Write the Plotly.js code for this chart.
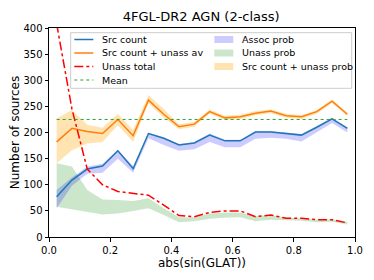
<!DOCTYPE html>
<html><head><meta charset="utf-8">
<script src="https://cdn.plot.ly/plotly-3.0.1.min.js"></script>
<style>html,body{margin:0;padding:0;background:#fff}#c{width:374px;height:280px}</style>
</head><body><div id="c"></div>
<script>
const xs = [0.025,0.075,0.125,0.175,0.225,0.275,0.325,0.375,0.425,0.475,0.525,0.575,0.625,0.675,0.725,0.775,0.825,0.875,0.925,0.975];
const srcCount = [77,109,130,136,165,131,198,189,176,180,195,184,184,201,201,198,195,210,226,208];
const srcUnassAv = [182,208,202,198,225,194,262,235,211,216,240,228,230,237,241,232,230,240,260,235];
const unassTotal = [408,245,130,100,87,83,80,61,41,39,47,50,50,39,42,36,36,33,33,27];
const meanVal = 225;
const assocHi = [90,114,135,140,167,135,200,191,178,182,198,186,186,203,203,200,197,212,228,210];
const assocLo = [55,98,121,123,150,123,189,176,165,168,182,172,172,188,190,188,183,200,218,200];
const unassHi = [141,135,90,72,71,69,74,55,38,38,45,47,47,40,42,37,36,33,34,29];
const unassLo = [58,53,48,43,45,50,55,42,28,30,35,37,38,30,33,32,31,28,29,24];
const totHi = [227,243,215,209,236,205,272,245,216,220,244,232,234,241,244,236,233,243,263,238];
const totLo = [141,166,179,182,214,182,256,228,206,211,236,224,226,233,237,228,226,236,256,231];

const lineNames = ['Src count','Src count + unass av','Unass total','Mean'];
const bandNames = ['Assoc prob','Unass prob','Src count + unass prob'];

const C_BLUE='#1f77b4', C_ORANGE='#ff7f0e', C_RED='red', C_MEAN='#2ca02c';
const F_ASSOC='rgba(0,0,255,0.2)', F_UNASS='rgba(0,128,0,0.2)', F_TOT='rgba(255,165,0,0.3)';

const rev = a => a.slice().reverse();
const band = (hi, lo) => ({x: xs.concat(rev(xs)), y: hi.concat(rev(lo))});

const traces = [
  Object.assign({type:'scatter', mode:'lines', name:bandNames[2], fill:'toself', fillcolor:F_TOT, line:{width:0}}, band(totHi, totLo)),
  Object.assign({type:'scatter', mode:'lines', name:bandNames[1], fill:'toself', fillcolor:F_UNASS, line:{width:0}}, band(unassHi, unassLo)),
  Object.assign({type:'scatter', mode:'lines', name:bandNames[0], fill:'toself', fillcolor:F_ASSOC, line:{width:0}}, band(assocHi, assocLo)),
  {type:'scatter', mode:'lines', name:lineNames[0], x:xs, y:srcCount, line:{color:C_BLUE, width:1.5}},
  {type:'scatter', mode:'lines', name:lineNames[1], x:xs, y:srcUnassAv, line:{color:C_ORANGE, width:1.5}},
  {type:'scatter', mode:'lines', name:lineNames[2], x:xs, y:unassTotal, line:{color:C_RED, width:1.5, dash:'dashdot'}},
  {type:'scatter', mode:'lines', name:lineNames[3], x:[xs[0], xs[xs.length-1]], y:[meanVal, meanVal], line:{color:C_MEAN, width:1, dash:'dot'}}
];

// legend drawn in paper coordinates (pixel helpers relative to plot area)
const L=49, T=28, W=306, H=209;
const PX = p => (p-L)/W, PY = p => (T+H-p)/H;
const rowY = [39.5, 53, 66.5, 80];
const shapes = [{type:'rect', xref:'paper', yref:'paper', layer:'above',
  x0:PX(70.7), x1:PX(351.7), y0:PY(88.3), y1:PY(32.7), fillcolor:'rgba(255,255,255,0.8)', line:{color:'#cccccc', width:1}}];
const annotations = [];
const lineStyles = [{color:C_BLUE,width:1.5,dash:'solid'},{color:C_ORANGE,width:1.5,dash:'solid'},{color:C_RED,width:1.5,dash:'dashdot'},{color:C_MEAN,width:1,dash:'dot'}];
const bandFills = [F_ASSOC, F_UNASS, F_TOT];
lineNames.forEach((n,i)=>{
  shapes.push({type:'line', xref:'paper', yref:'paper', layer:'above', x0:PX(74.3), x1:PX(93.3), y0:PY(rowY[i]), y1:PY(rowY[i]), line:lineStyles[i]});
  annotations.push({xref:'paper', yref:'paper', x:PX(100), y:PY(rowY[i]), xanchor:'left', yanchor:'middle', showarrow:false, text:n, font:{size:9.5}});
});
bandNames.forEach((n,i)=>{
  shapes.push({type:'rect', xref:'paper', yref:'paper', layer:'above', x0:PX(214.3), x1:PX(233.3), y0:PY(rowY[i]+3.5), y1:PY(rowY[i]-3.5), fillcolor:bandFills[i], line:{width:0}});
  annotations.push({xref:'paper', yref:'paper', x:PX(240), y:PY(rowY[i]), xanchor:'left', yanchor:'middle', showarrow:false, text:n, font:{size:9.5}});
});

const layout = {
  width:374, height:280,
  margin:{l:L, r:374-L-W, t:T, b:280-T-H},
  paper_bgcolor:'#fff', plot_bgcolor:'#fff',
  font:{family:'DejaVu Sans', size:10, color:'#000'},
  title:{text:'4FGL-DR2 AGN (2-class)', font:{size:13}, x:0.538, xanchor:'center', y:0.94, yanchor:'middle'},
  xaxis:{range:[0,1], tickvals:[0,0.2,0.4,0.6,0.8,1.0], ticktext:['0.0','0.2','0.4','0.6','0.8','1.0'],
    showline:true, linecolor:'#000', linewidth:1, mirror:true, ticks:'outside', ticklen:3.5, tickcolor:'#000',
    showgrid:false, zeroline:false, title:{text:'abs(sin(GLAT))', font:{size:12}, standoff:4}},
  yaxis:{range:[0,400], tickvals:[0,50,100,150,200,250,300,350,400],
    showline:true, linecolor:'#000', linewidth:1, mirror:true, ticks:'outside', ticklen:3.5, tickcolor:'#000',
    showgrid:false, zeroline:false, title:{text:'Number of sources', font:{size:12}, standoff:1}},
  showlegend:false,
  shapes:shapes, annotations:annotations
};
Plotly.newPlot('c', traces, layout, {staticPlot:true, displayModeBar:false});
</script></body></html>
